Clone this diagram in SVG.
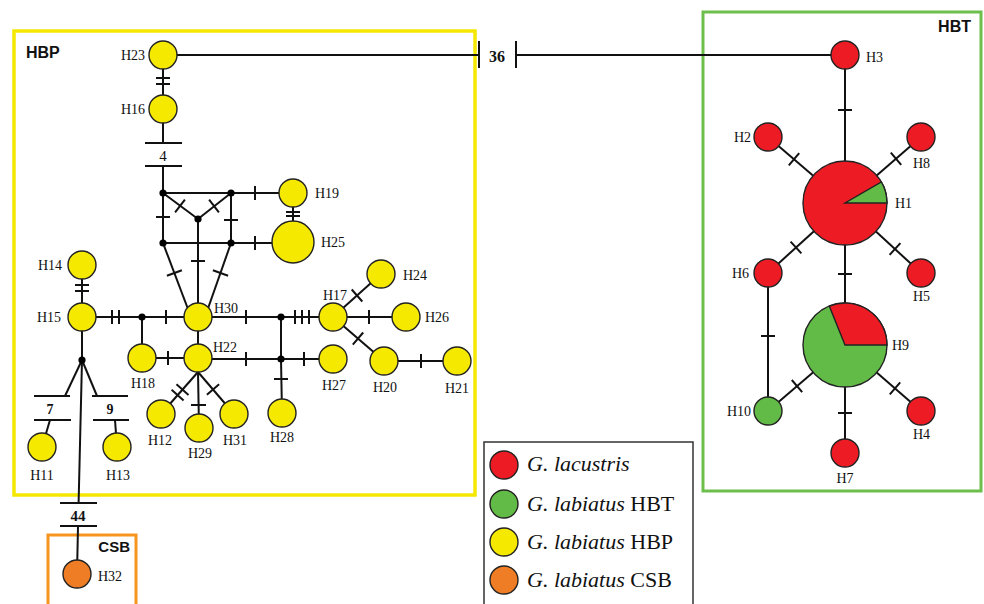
<svg xmlns="http://www.w3.org/2000/svg" width="984" height="604" viewBox="0 0 984 604">
<style>
.ln{stroke:#111;stroke-width:2;fill:none;stroke-linecap:butt}
.nd{stroke:#222;stroke-width:1.4}
.y{fill:#f6e900}.r{fill:#ed1c24}.g{fill:#62bb46}.o{fill:#ee7d26}
.dot{fill:#000}
.lb{font-family:"Liberation Serif","Times New Roman",serif;font-size:14px;fill:#111}
.num{font-family:"Liberation Serif","Times New Roman",serif;font-weight:bold;fill:#111}
.grp{font-family:"Liberation Sans",Arial,sans-serif;font-weight:bold;font-size:16px;fill:#111}
.lg{font-family:"Liberation Serif","Times New Roman",serif;font-size:22px;fill:#111}
</style>
<rect width="984" height="604" fill="#fff"/>

<g id="boxes">
<rect x="14" y="31" width="461" height="464" fill="none" stroke="#f5e800" stroke-width="3.5"/>
<rect x="703" y="12" width="278" height="479" fill="none" stroke="#6cbf4a" stroke-width="3"/>
<rect x="48" y="535" width="88" height="75" fill="none" stroke="#f7941d" stroke-width="3"/>
<text class="grp" x="26" y="58">HBP</text>
<text class="grp" x="971" y="32" text-anchor="end">HBT</text>
<text class="grp" x="130" y="552" text-anchor="end" style="font-size:15px">CSB</text>
</g>

<g id="connectors">
<!-- long link 36 -->
<line class="ln" x1="163" y1="55" x2="479" y2="55"/>
<line class="ln" x1="479" y1="41" x2="479" y2="68"/>
<line class="ln" x1="516" y1="41" x2="516" y2="68"/>
<line class="ln" x1="516" y1="55" x2="845" y2="55"/>
<text class="num" x="497" y="62" text-anchor="middle" style="font-size:16px">36</text>

<!-- H23-H16 -->
<line class="ln" x1="163" y1="55" x2="163" y2="109"/>
<line class="ln" x1="156" y1="78" x2="170" y2="78"/>
<line class="ln" x1="156" y1="84" x2="170" y2="84"/>
<!-- H16 - 4 - mesh -->
<line class="ln" x1="163" y1="109" x2="163" y2="143"/>
<line class="ln" x1="145" y1="143" x2="182" y2="143"/>
<text class="lb" x="163" y="161" text-anchor="middle" style="font-size:15px">4</text>
<line class="ln" x1="145" y1="166" x2="182" y2="166"/>
<line class="ln" x1="163" y1="166" x2="163" y2="243"/>
<line class="ln" x1="156" y1="217" x2="170" y2="217"/>
<!-- mesh -->
<line class="ln" x1="163" y1="193" x2="293" y2="193"/>
<line class="ln" x1="255" y1="186" x2="255" y2="200"/>
<line class="ln" x1="163" y1="243" x2="293" y2="243"/>
<line class="ln" x1="255" y1="236" x2="255" y2="250"/>
<line class="ln" x1="231" y1="193" x2="231" y2="243"/>
<line class="ln" x1="224" y1="220" x2="238" y2="220"/>
<line class="ln" x1="163" y1="193" x2="198" y2="219"/>
<line class="ln" x1="175.1" y1="212.4" x2="184.9" y2="199.6"/>
<line class="ln" x1="231" y1="193" x2="198" y2="219"/>
<line class="ln" x1="209.1" y1="199.6" x2="218.9" y2="212.4"/>
<line class="ln" x1="198" y1="219" x2="198" y2="317"/>
<line class="ln" x1="191" y1="261" x2="205" y2="261"/>
<line class="ln" x1="163" y1="243" x2="191" y2="317"/>
<line class="ln" x1="166.9" y1="275.8" x2="181.9" y2="270.2"/>
<line class="ln" x1="231" y1="243" x2="205" y2="317"/>
<line class="ln" x1="212.9" y1="270.3" x2="228.1" y2="275.7"/>
<!-- H19-H25 -->
<line class="ln" x1="293" y1="193" x2="293" y2="242"/>
<line class="ln" x1="286" y1="212" x2="300" y2="212"/>
<line class="ln" x1="286" y1="216" x2="300" y2="216"/>

<!-- H14-H15 -->
<line class="ln" x1="82" y1="265" x2="82" y2="317"/>
<line class="ln" x1="75" y1="285" x2="89" y2="285"/>
<line class="ln" x1="75" y1="291" x2="89" y2="291"/>
<!-- H15 row -->
<line class="ln" x1="82" y1="317" x2="333" y2="317"/>
<line class="ln" x1="112" y1="310" x2="112" y2="324"/>
<line class="ln" x1="119" y1="310" x2="119" y2="324"/>
<line class="ln" x1="166" y1="310" x2="166" y2="324"/>
<line class="ln" x1="246" y1="310" x2="246" y2="324"/>
<line class="ln" x1="295" y1="310" x2="295" y2="324"/>
<line class="ln" x1="302" y1="310" x2="302" y2="324"/>
<line class="ln" x1="309" y1="310" x2="309" y2="324"/>
<line class="ln" x1="142" y1="317" x2="142" y2="358"/>
<line class="ln" x1="198" y1="317" x2="198" y2="358"/>
<!-- H22 row -->
<line class="ln" x1="142" y1="358" x2="198" y2="358"/>
<line class="ln" x1="168" y1="351" x2="168" y2="365"/>
<line class="ln" x1="198" y1="359" x2="333" y2="359"/>
<line class="ln" x1="246" y1="352" x2="246" y2="366"/>
<line class="ln" x1="304" y1="352" x2="304" y2="366"/>
<line class="ln" x1="281" y1="317" x2="281" y2="359"/>
<line class="ln" x1="281" y1="359" x2="282" y2="413"/>
<line class="ln" x1="274" y1="379" x2="288" y2="379"/>
<!-- H17 branches -->
<line class="ln" x1="333" y1="317" x2="381" y2="274"/>
<line class="ln" x1="351.7" y1="289.5" x2="362.3" y2="301.5"/>
<line class="ln" x1="333" y1="317" x2="406" y2="317"/>
<line class="ln" x1="369" y1="310" x2="369" y2="324"/>
<line class="ln" x1="333" y1="317" x2="384" y2="361"/>
<line class="ln" x1="352.8" y1="344.7" x2="363.2" y2="332.5"/>
<line class="ln" x1="384" y1="361" x2="457" y2="361"/>
<line class="ln" x1="421" y1="354" x2="421" y2="368"/>
<!-- H22 lower branches -->
<line class="ln" x1="198" y1="372" x2="161" y2="414"/>
<line class="ln" x1="176.5" y1="384.3" x2="188.5" y2="394.9"/>
<line class="ln" x1="171.6" y1="389.8" x2="183.6" y2="400.4"/>
<line class="ln" x1="198" y1="372" x2="199" y2="428"/>
<line class="ln" x1="191" y1="405" x2="206" y2="405"/>
<line class="ln" x1="198" y1="372" x2="234" y2="414"/>
<line class="ln" x1="206.9" y1="394.7" x2="219.1" y2="384.3"/>
<!-- H15 down -->
<line class="ln" x1="82" y1="317" x2="82" y2="360"/>
<line class="ln" x1="82" y1="360" x2="65" y2="396"/>
<line class="ln" x1="34" y1="396" x2="70" y2="396"/>
<text class="num" x="50" y="414" text-anchor="middle" style="font-size:14px">7</text>
<line class="ln" x1="34" y1="420" x2="71" y2="420"/>
<line class="ln" x1="50" y1="420" x2="42" y2="447"/>
<line class="ln" x1="82" y1="360" x2="97" y2="396"/>
<line class="ln" x1="92" y1="396" x2="128" y2="396"/>
<text class="num" x="110" y="414" text-anchor="middle" style="font-size:14px">9</text>
<line class="ln" x1="93" y1="420" x2="129" y2="420"/>
<line class="ln" x1="115" y1="420" x2="117" y2="447"/>
<line class="ln" x1="82" y1="360" x2="78.6" y2="503"/>
<line class="ln" x1="60" y1="503" x2="97" y2="503"/>
<text class="num" x="78" y="521" text-anchor="middle" style="font-size:15px">44</text>
<line class="ln" x1="60" y1="526" x2="97" y2="526"/>
<line class="ln" x1="78" y1="526" x2="77" y2="574"/>

<!-- HBT -->
<line class="ln" x1="845" y1="55" x2="845" y2="453"/>
<line class="ln" x1="838" y1="110" x2="852" y2="110"/>
<line class="ln" x1="838" y1="274" x2="852" y2="274"/>
<line class="ln" x1="838" y1="413" x2="852" y2="413"/>
<line class="ln" x1="768" y1="137" x2="845" y2="203"/>
<line class="ln" x1="788.8" y1="165.4" x2="799.2" y2="153.2"/>
<line class="ln" x1="921" y1="137" x2="845" y2="203"/>
<line class="ln" x1="890.8" y1="152.6" x2="901.2" y2="164.8"/>
<line class="ln" x1="768" y1="273" x2="845" y2="203"/>
<line class="ln" x1="790.6" y1="241.6" x2="801.4" y2="253.4"/>
<line class="ln" x1="921" y1="273" x2="845" y2="203"/>
<line class="ln" x1="889.6" y1="254.9" x2="900.4" y2="243.1"/>
<line class="ln" x1="768" y1="273" x2="768" y2="411"/>
<line class="ln" x1="761" y1="336" x2="775" y2="336"/>
<line class="ln" x1="768" y1="411" x2="845" y2="345"/>
<line class="ln" x1="791.8" y1="380" x2="802.2" y2="392.2"/>
<line class="ln" x1="921" y1="411" x2="845" y2="345"/>
<line class="ln" x1="889.8" y1="394.4" x2="900.2" y2="382.4"/>
</g>

<g id="mv">
<circle class="dot" cx="163" cy="193" r="3.6"/>
<circle class="dot" cx="231" cy="193" r="3.6"/>
<circle class="dot" cx="198" cy="219" r="3.6"/>
<circle class="dot" cx="163" cy="243" r="3.6"/>
<circle class="dot" cx="231" cy="243" r="3.6"/>
<circle class="dot" cx="142" cy="317" r="3.6"/>
<circle class="dot" cx="281" cy="317" r="3.6"/>
<circle class="dot" cx="281" cy="359" r="3.6"/>
<circle class="dot" cx="82" cy="360" r="3.6"/>
</g>

<g id="H23"><circle class="nd y" cx="163" cy="55" r="14"/><text class="lb" x="145" y="60" text-anchor="end">H23</text></g>
<g id="H16"><circle class="nd y" cx="163" cy="109" r="14"/><text class="lb" x="145" y="114" text-anchor="end">H16</text></g>
<g id="H19"><circle class="nd y" cx="293" cy="193" r="14"/><text class="lb" x="315" y="198">H19</text></g>
<g id="H25"><circle class="nd y" cx="293" cy="242" r="21"/><text class="lb" x="321" y="247">H25</text></g>
<g id="H14"><circle class="nd y" cx="82" cy="265" r="14"/><text class="lb" x="62" y="270" text-anchor="end">H14</text></g>
<g id="H15"><circle class="nd y" cx="82" cy="317" r="14"/><text class="lb" x="61" y="322" text-anchor="end">H15</text></g>
<g id="H30"><circle class="nd y" cx="198" cy="317" r="14"/><text class="lb" x="214" y="313">H30</text></g>
<g id="H22"><circle class="nd y" cx="198" cy="358" r="14"/><text class="lb" x="213" y="352">H22</text></g>
<g id="H18"><circle class="nd y" cx="142" cy="358" r="14"/><text class="lb" x="143" y="388" text-anchor="middle">H18</text></g>
<g id="H17"><circle class="nd y" cx="333" cy="317" r="14"/><text class="lb" x="335" y="300" text-anchor="middle">H17</text></g>
<g id="H24"><circle class="nd y" cx="381" cy="274" r="14"/><text class="lb" x="403" y="280">H24</text></g>
<g id="H26"><circle class="nd y" cx="406" cy="317" r="14"/><text class="lb" x="425" y="322">H26</text></g>
<g id="H27"><circle class="nd y" cx="333" cy="359" r="14"/><text class="lb" x="334" y="390" text-anchor="middle">H27</text></g>
<g id="H20"><circle class="nd y" cx="384" cy="361" r="14"/><text class="lb" x="385" y="392" text-anchor="middle">H20</text></g>
<g id="H21"><circle class="nd y" cx="457" cy="361" r="14"/><text class="lb" x="457" y="393" text-anchor="middle">H21</text></g>
<g id="H28"><circle class="nd y" cx="282" cy="413" r="14"/><text class="lb" x="282" y="442" text-anchor="middle">H28</text></g>
<g id="H12"><circle class="nd y" cx="161" cy="414" r="14"/><text class="lb" x="160" y="445" text-anchor="middle">H12</text></g>
<g id="H29"><circle class="nd y" cx="199" cy="428" r="14"/><text class="lb" x="200" y="458" text-anchor="middle">H29</text></g>
<g id="H31"><circle class="nd y" cx="234" cy="414" r="14"/><text class="lb" x="235" y="445" text-anchor="middle">H31</text></g>
<g id="H11"><circle class="nd y" cx="42" cy="447" r="14"/><text class="lb" x="42" y="480" text-anchor="middle">H11</text></g>
<g id="H13"><circle class="nd y" cx="117" cy="447" r="14"/><text class="lb" x="118" y="480" text-anchor="middle">H13</text></g>
<g id="H32"><circle class="nd o" cx="77" cy="574" r="14"/><text class="lb" x="98" y="581">H32</text></g>

<g id="H3"><circle class="nd r" cx="845" cy="55" r="14"/><text class="lb" x="866" y="62">H3</text></g>
<g id="H2"><circle class="nd r" cx="768" cy="137" r="14"/><text class="lb" x="751" y="142" text-anchor="end">H2</text></g>
<g id="H8"><circle class="nd r" cx="921" cy="137" r="14"/><text class="lb" x="913" y="168">H8</text></g>
<g id="H1"><circle class="nd r" cx="845" cy="203" r="42"/><path class="nd g" d="M845,203 L887,203 A42,42 0 0,0 881.4,182 Z"/><text class="lb" x="895" y="208">H1</text></g>
<g id="H6"><circle class="nd r" cx="768" cy="273" r="14"/><text class="lb" x="749" y="278" text-anchor="end">H6</text></g>
<g id="H5"><circle class="nd r" cx="921" cy="273" r="14"/><text class="lb" x="913" y="301">H5</text></g>
<g id="H9"><circle class="nd g" cx="845" cy="345" r="42"/><path class="nd r" d="M845,345 L887,345 A42,42 0 0,0 829.3,306.1 Z"/><text class="lb" x="892" y="350">H9</text></g>
<g id="H10"><circle class="nd g" cx="768" cy="411" r="14"/><text class="lb" x="751" y="416" text-anchor="end">H10</text></g>
<g id="H4"><circle class="nd r" cx="921" cy="411" r="14"/><text class="lb" x="913" y="439">H4</text></g>
<g id="H7"><circle class="nd r" cx="845" cy="453" r="14"/><text class="lb" x="845" y="483" text-anchor="middle">H7</text></g>

<g id="legend">
<rect x="484" y="442" width="209" height="170" fill="#fff" stroke="#333" stroke-width="1.5"/>
<circle class="nd r" cx="504" cy="465" r="14"/>
<text class="lg" x="527" y="471"><tspan font-style="italic">G. lacustris</tspan></text>
<circle class="nd g" cx="504" cy="504" r="14"/>
<text class="lg" x="527" y="511"><tspan font-style="italic">G. labiatus</tspan> HBT</text>
<circle class="nd y" cx="504" cy="542" r="14"/>
<text class="lg" x="527" y="549"><tspan font-style="italic">G. labiatus</tspan> HBP</text>
<circle class="nd o" cx="504" cy="580" r="14"/>
<text class="lg" x="527" y="587"><tspan font-style="italic">G. labiatus</tspan> CSB</text>
</g>
</svg>
